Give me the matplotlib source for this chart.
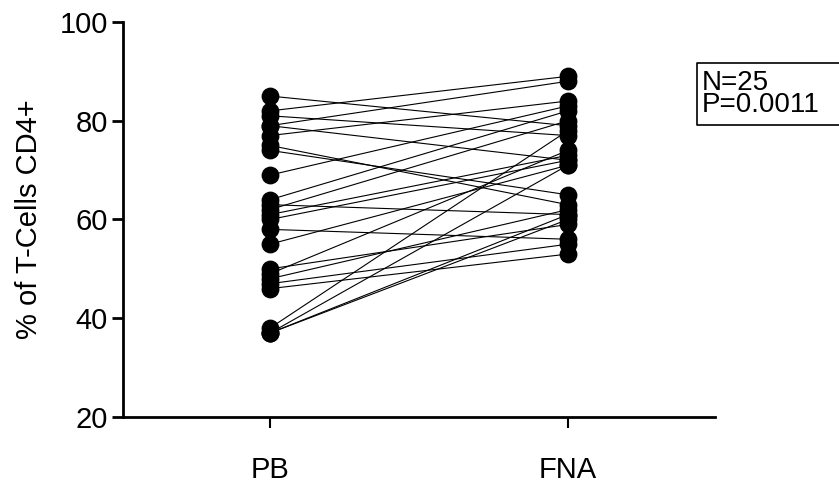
import numpy as np
from matplotlib import pyplot as plt
from matplotlib.lines import Line2D

plt.rcParams['font.family'] = ['Liberation Sans', 'DejaVu Sans']

# paired values (% of T-cells CD4+)
pb = [85, 82, 81, 79, 79, 77, 75, 74, 69, 64, 63, 62, 61, 60, 58,
      55, 50, 49, 48, 47, 46, 38, 37, 37, 37]
fna = [79, 89, 77, 88, 72, 84, 63, 65, 83, 82, 61, 80, 73, 72, 56,
       71, 59, 74, 62, 55, 53, 78, 71, 60, 61]
groups = ['PB', 'FNA']

fig = plt.figure(figsize=(8.39, 5.0), dpi=100)
ax = fig.add_axes([0.1466, 0.166, 0.7054, 0.790])

for a, b in zip(pb, fna):
    ax.plot([0, 1], [a, b], color='black', lw=0.8, zorder=1)
ax.scatter(np.zeros(len(pb)), pb, s=140, color='black', zorder=2)
ax.scatter(np.ones(len(fna)), fna, s=140, color='black', zorder=2)

ax.set_xlim(-0.493, 1.493)
ax.set_ylim(20, 100)
ax.set_yticks([20, 40, 60, 80, 100])
ax.set_xticks([0, 1])
ax.set_xticklabels(groups)
ax.spines['top'].set_visible(False)
ax.spines['right'].set_visible(False)
for s in ['left', 'bottom']:
    ax.spines[s].set_linewidth(2)
ax.tick_params(axis='y', length=8, width=2, labelsize=21, pad=3)
ax.tick_params(axis='x', length=8, width=1.5, labelsize=21, pad=20)
ax.set_ylabel('% of T-Cells CD4+', fontsize=21, labelpad=12)

# stats box, cut off at the right edge like the original
box_x = [1.05, 0.831, 0.831, 1.05]
box_y = [0.874, 0.874, 0.75, 0.75]
fig.add_artist(Line2D(box_x, box_y, transform=fig.transFigure, color='black', lw=1.2))
fig.text(0.836, 0.812, 'N=25\nP=0.0011', fontsize=20, va='center', ha='left',
         linespacing=0.85)

fig.savefig('out.png')
